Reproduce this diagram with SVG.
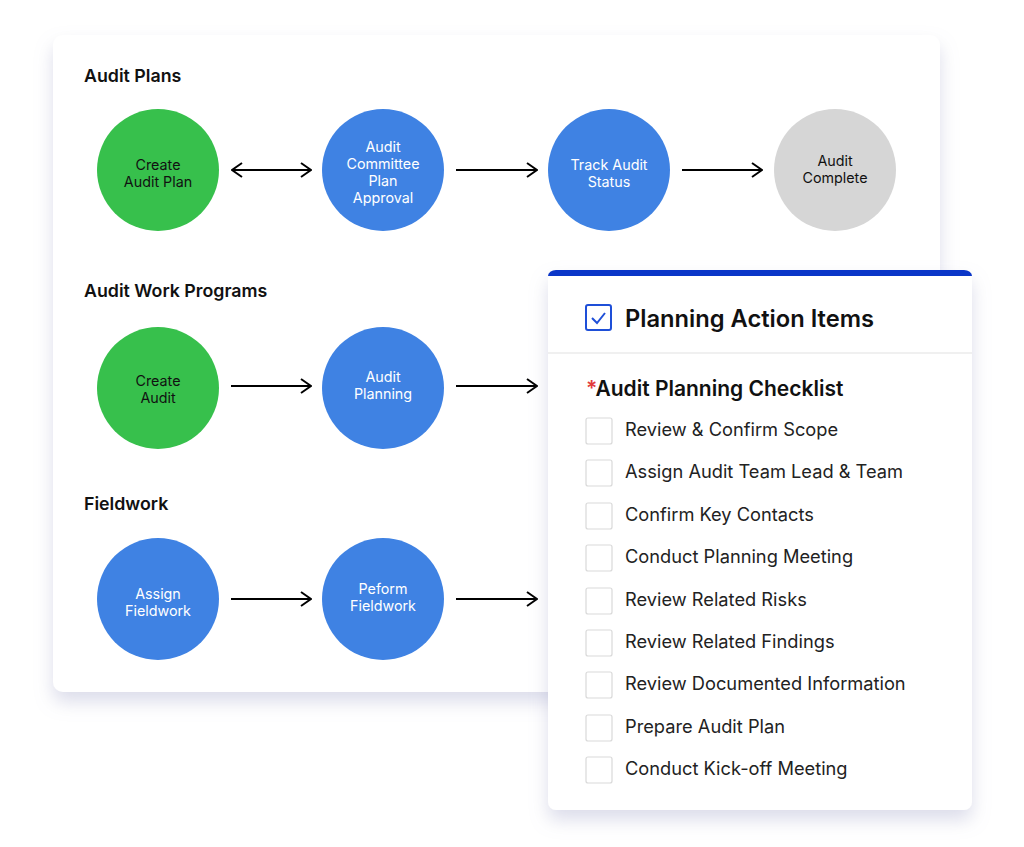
<svg xmlns="http://www.w3.org/2000/svg" width="1024" height="847" viewBox="0 0 1024 847">
<defs>
<filter id="sh" x="-10%" y="-10%" width="125%" height="130%">
<feDropShadow dx="0" dy="10" stdDeviation="9" flood-color="#9a9cc4" flood-opacity="0.35"/>
</filter>
<marker id="ah" viewBox="0 0 12 16" refX="11" refY="8" markerWidth="12" markerHeight="16" markerUnits="userSpaceOnUse" orient="auto-start-reverse">
<path d="M1,1 L11,8 L1,15" fill="none" stroke="#000" stroke-width="2"/>
</marker>
<clipPath id="topclip"><rect x="548" y="270" width="424" height="12" rx="8"/></clipPath>
</defs>
<style>
.h{font-family:Inter,"Liberation Sans",sans-serif;font-weight:600;font-size:17.8px;fill:#111}
.lw{font-family:Inter,"Liberation Sans",sans-serif;font-size:14.3px;fill:#fff;text-anchor:middle}
.lb{font-family:Inter,"Liberation Sans",sans-serif;font-size:14.3px;fill:#111;text-anchor:middle}
.blue{fill:#3f82e3}
.green{fill:#37c04c}
.grey{fill:#d6d6d6}
.conn line{stroke:#000;stroke-width:2}
.cb{fill:#fff;stroke:#d9d9d9;stroke-width:1.2}
.it{font-family:Inter,"Liberation Sans",sans-serif;font-size:18.25px;fill:#222}
</style>
<rect width="1024" height="847" fill="#fff"/>
<g id="main-card">
<rect x="53" y="35" width="887" height="657" rx="10" fill="#fff" filter="url(#sh)"/>
<text class="h" x="84" y="82">Audit Plans</text>
<text class="h" x="84" y="297">Audit Work Programs</text>
<text class="h" x="84" y="510">Fieldwork</text>
</g>
<g id="n-create-plan"><circle class="green" cx="158" cy="170" r="61"/><text class="lb" x="158" y="170">Create</text><text class="lb" x="158" y="187">Audit Plan</text></g>
<g id="n-committee"><circle class="blue" cx="383" cy="170" r="61"/><text class="lw" x="383" y="152">Audit</text><text class="lw" x="383" y="169">Committee</text><text class="lw" x="383" y="186">Plan</text><text class="lw" x="383" y="203">Approval</text></g>
<g id="n-track"><circle class="blue" cx="609" cy="170" r="61"/><text class="lw" x="609" y="170">Track Audit</text><text class="lw" x="609" y="187">Status</text></g>
<g id="n-complete"><circle class="grey" cx="835" cy="170" r="61"/><text class="lb" x="835" y="166">Audit</text><text class="lb" x="835" y="183">Complete</text></g>
<g id="n-create-audit"><circle class="green" cx="158" cy="388" r="61"/><text class="lb" x="158" y="386">Create</text><text class="lb" x="158" y="403">Audit</text></g>
<g id="n-planning"><circle class="blue" cx="383" cy="388" r="61"/><text class="lw" x="383" y="382">Audit</text><text class="lw" x="383" y="399">Planning</text></g>
<g id="n-assign"><circle class="blue" cx="158" cy="599" r="61"/><text class="lw" x="158" y="599">Assign</text><text class="lw" x="158" y="616">Fieldwork</text></g>
<g id="n-perform"><circle class="blue" cx="383" cy="599" r="61"/><text class="lw" x="383" y="594">Peform</text><text class="lw" x="383" y="611">Fieldwork</text></g>
<g id="connectors" class="conn">
<line x1="232" y1="170" x2="311" y2="170" marker-start="url(#ah)" marker-end="url(#ah)"/>
<line x1="456" y1="170" x2="537" y2="170" marker-end="url(#ah)"/>
<line x1="682" y1="170" x2="762" y2="170" marker-end="url(#ah)"/>
<line x1="231" y1="386" x2="311" y2="386" marker-end="url(#ah)"/>
<line x1="456" y1="386" x2="537" y2="386" marker-end="url(#ah)"/>
<line x1="231" y1="599" x2="311" y2="599" marker-end="url(#ah)"/>
<line x1="456" y1="599" x2="537" y2="599" marker-end="url(#ah)"/>
</g>
<g id="checklist-card">
<rect x="548" y="270" width="424" height="540" rx="8" fill="#fff" filter="url(#sh)"/>
<rect x="548" y="270" width="424" height="6" fill="#0b36c8" clip-path="url(#topclip)"/>
<rect x="586" y="305" width="25" height="25" rx="2" fill="#fff" stroke="#1e4fd8" stroke-width="2"/>
<path d="M592,318 L597,323 L605,313" fill="none" stroke="#1e4fd8" stroke-width="2"/>
<text x="625" y="327" font-family="Inter,'Liberation Sans',sans-serif" font-size="23.7" font-weight="600" fill="#111">Planning Action Items</text>
<line x1="548" y1="353" x2="972" y2="353" stroke="#e2e2e2" stroke-width="1.2"/>
<text x="586" y="396" font-family="Inter,'Liberation Sans',sans-serif" font-size="21" font-weight="600" fill="#111"><tspan fill="#e23b3b">*</tspan>Audit Planning Checklist</text>
<rect class="cb" x="586" y="418" width="26" height="26" rx="2"/><text class="it" x="625" y="436">Review &amp; Confirm Scope</text>
<rect class="cb" x="586" y="460" width="26" height="26" rx="2"/><text class="it" x="625" y="478">Assign Audit Team Lead &amp; Team</text>
<rect class="cb" x="586" y="503" width="26" height="26" rx="2"/><text class="it" x="625" y="521">Confirm Key Contacts</text>
<rect class="cb" x="586" y="545" width="26" height="26" rx="2"/><text class="it" x="625" y="563">Conduct Planning Meeting</text>
<rect class="cb" x="586" y="588" width="26" height="26" rx="2"/><text class="it" x="625" y="606">Review Related Risks</text>
<rect class="cb" x="586" y="630" width="26" height="26" rx="2"/><text class="it" x="625" y="648">Review Related Findings</text>
<rect class="cb" x="586" y="672" width="26" height="26" rx="2"/><text class="it" x="625" y="690">Review Documented Information</text>
<rect class="cb" x="586" y="715" width="26" height="26" rx="2"/><text class="it" x="625" y="733">Prepare Audit Plan</text>
<rect class="cb" x="586" y="757" width="26" height="26" rx="2"/><text class="it" x="625" y="775">Conduct Kick-off Meeting</text>
</g>
</svg>
